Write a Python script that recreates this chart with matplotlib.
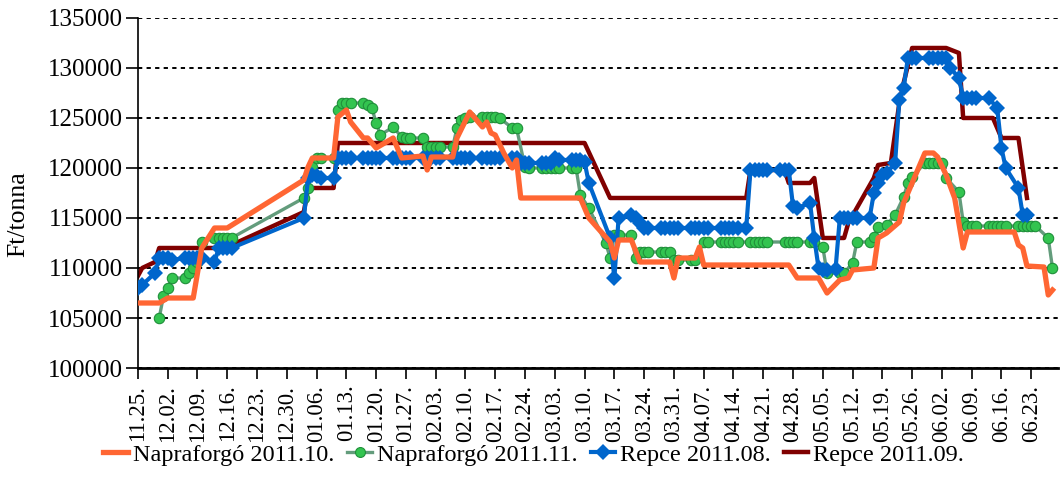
import matplotlib
matplotlib.use("Agg")
import matplotlib.pyplot as plt
import pandas as pd

plt.rcParams["font.family"] = ["Liberation Serif", "DejaVu Serif"]

FONT_SIZE = 16.5

# ---------------------------------------------------------------------------
# Data (Ft/tonna), dates as MM.DD (Nov/Dec = 2010, rest = 2011)
# ---------------------------------------------------------------------------
napra_10 = [
    ("11.25", 106500), ("11.30", 106500), ("12.02", 107000), ("12.08", 107000),
    ("12.10", 112000), ("12.13", 114000), ("12.16", 114000), ("01.03", 118800),
    ("01.04", 120100), ("01.05", 121000), ("01.10", 121000), ("01.11", 125100),
    ("01.13", 125800), ("01.14", 124600), ("01.17", 123000), ("01.18", 123000),
    ("01.20", 122000), ("01.24", 123000), ("01.26", 121000), ("01.31", 121200),
    ("02.01", 119800), ("02.02", 121100), ("02.07", 121100), ("02.08", 123000),
    ("02.11", 125600), ("02.14", 124100), ("02.15", 124600), ("02.16", 123500),
    ("02.17", 123300), ("02.19", 121500), ("02.21", 120000), ("02.22", 120800),
    ("02.23", 117000), ("03.09", 117000), ("03.11", 115000), ("03.16", 112600),
    ("03.17", 111000), ("03.18", 112800), ("03.21", 112800), ("03.23", 110600),
    ("03.30", 110600), ("03.31", 109000), ("04.01", 111000), ("04.05", 111000),
    ("04.06", 112100), ("04.07", 110300), ("04.27", 110300), ("04.29", 109000),
    ("05.04", 109000), ("05.06", 107500), ("05.09", 108800), ("05.11", 109000),
    ("05.12", 109800), ("05.17", 110000), ("05.18", 113000), ("05.20", 113500),
    ("05.23", 114600), ("05.24", 116500), ("05.25", 117500), ("05.29", 121500),
    ("05.31", 121500), ("06.01", 121100), ("06.03", 119300), ("06.05", 117000),
    ("06.07", 112000), ("06.08", 113600), ("06.19", 113600), ("06.20", 112300),
    ("06.21", 112000), ("06.22", 110200), ("06.26", 110100), ("06.27", 107300),
    ("06.28", 107800),
]

napra_11 = [
    ("11.30", 105000), ("12.01", 107200), ("12.02", 108000), ("12.03", 109000),
    ("12.06", 109000), ("12.07", 109500), ("12.08", 110000), ("12.09", 110600),
    ("12.10", 112600), ("12.13", 113000), ("12.14", 113000), ("12.15", 113000),
    ("12.16", 113000), ("12.17", 113000), ("01.03", 117000), ("01.04", 118000),
    ("01.05", 120100), ("01.06", 121000), ("01.07", 121000), ("01.10", 121000),
    ("01.11", 125800), ("01.12", 126500), ("01.13", 126500), ("01.14", 126500),
    ("01.17", 126500), ("01.18", 126300), ("01.19", 126000), ("01.20", 124500),
    ("01.21", 123300), ("01.24", 124100), ("01.26", 123100), ("01.27", 123000),
    ("01.28", 123000), ("01.31", 123000), ("02.01", 122100), ("02.02", 122100),
    ("02.03", 122100), ("02.04", 122100), ("02.07", 122100), ("02.08", 124000),
    ("02.09", 124800), ("02.10", 125000), ("02.11", 125100), ("02.14", 125100),
    ("02.15", 125100), ("02.16", 125100), ("02.17", 125100), ("02.18", 125000),
    ("02.21", 124000), ("02.22", 124000), ("02.24", 120100), ("02.25", 120000),
    ("02.28", 120000), ("03.01", 120000), ("03.02", 120000), ("03.03", 120000),
    ("03.04", 120000), ("03.07", 120000), ("03.08", 120000), ("03.09", 117300),
    ("03.11", 116000), ("03.15", 112500), ("03.16", 111000), ("03.17", 113300),
    ("03.18", 113300), ("03.21", 113300), ("03.22", 111000), ("03.23", 111600),
    ("03.24", 111600), ("03.25", 111600), ("03.28", 111600), ("03.29", 111600),
    ("03.30", 111600), ("03.31", 110800), ("04.01", 110800), ("04.04", 110800),
    ("04.05", 110800), ("04.07", 112600), ("04.08", 112600), ("04.11", 112600),
    ("04.12", 112600), ("04.13", 112600), ("04.14", 112600), ("04.15", 112600),
    ("04.18", 112600), ("04.19", 112600), ("04.20", 112600), ("04.21", 112600),
    ("04.22", 112600), ("04.26", 112600), ("04.27", 112600), ("04.28", 112600),
    ("04.29", 112600), ("05.02", 112600), ("05.03", 112600), ("05.05", 112100),
    ("05.06", 109500), ("05.09", 109500), ("05.10", 109500), ("05.12", 110500),
    ("05.13", 112600), ("05.16", 112600), ("05.17", 113100), ("05.18", 114100),
    ("05.20", 114300), ("05.22", 115300), ("05.24", 117100), ("05.25", 118500),
    ("05.26", 119100), ("05.29", 120500), ("05.30", 120500), ("05.31", 120500),
    ("06.01", 120500), ("06.02", 120500), ("06.03", 119000), ("06.06", 117600),
    ("06.07", 114600), ("06.08", 114200), ("06.09", 114200), ("06.10", 114200),
    ("06.13", 114200), ("06.14", 114200), ("06.15", 114200), ("06.16", 114200),
    ("06.17", 114200), ("06.20", 114200), ("06.21", 114200), ("06.22", 114200),
    ("06.23", 114200), ("06.24", 114200), ("06.27", 113000), ("06.28", 110000),
]

repce_08 = [
    ("11.25", 108000), ("11.26", 108300), ("11.29", 109500), ("11.30", 111000),
    ("12.01", 111000), ("12.02", 111000), ("12.03", 110800), ("12.06", 111000),
    ("12.07", 111000), ("12.08", 111000), ("12.09", 111000), ("12.10", 111000),
    ("12.13", 110600), ("12.14", 112000), ("12.15", 112000), ("12.16", 112000),
    ("12.17", 112000), ("01.03", 115000), ("01.04", 119000), ("01.05", 119300),
    ("01.06", 119200), ("01.07", 119000), ("01.10", 119000), ("01.11", 121000),
    ("01.12", 121000), ("01.13", 121000), ("01.14", 121000), ("01.17", 121000),
    ("01.18", 121000), ("01.19", 121000), ("01.20", 121000), ("01.21", 121000),
    ("01.24", 121000), ("01.25", 121000), ("01.26", 121000), ("01.27", 121000),
    ("01.28", 121000), ("01.31", 121000), ("02.01", 121000), ("02.02", 121000),
    ("02.03", 121000), ("02.04", 121000), ("02.07", 121000), ("02.08", 121000),
    ("02.09", 121000), ("02.10", 121000), ("02.11", 121000), ("02.14", 121000),
    ("02.15", 121000), ("02.16", 121000), ("02.17", 121000), ("02.18", 121000),
    ("02.21", 121000), ("02.22", 121000), ("02.23", 120500), ("02.24", 120500),
    ("02.25", 120500), ("02.28", 120500), ("03.01", 120500), ("03.02", 120500),
    ("03.03", 121000), ("03.04", 120800), ("03.07", 120800), ("03.08", 120800),
    ("03.09", 120800), ("03.10", 120600), ("03.11", 118500), ("03.16", 113000),
    ("03.17", 109000), ("03.18", 115000), ("03.21", 115300), ("03.22", 115000),
    ("03.23", 114500), ("03.24", 114000), ("03.25", 114000), ("03.28", 114000),
    ("03.29", 114000), ("03.30", 114000), ("03.31", 114000), ("04.01", 114000),
    ("04.04", 114000), ("04.05", 114000), ("04.06", 114000), ("04.07", 114000),
    ("04.08", 114000), ("04.11", 114000), ("04.12", 114000), ("04.13", 114000),
    ("04.14", 114000), ("04.15", 114000), ("04.17", 114000), ("04.18", 119800),
    ("04.19", 119800), ("04.20", 119800), ("04.21", 119800), ("04.22", 119800),
    ("04.25", 119800), ("04.26", 119800), ("04.27", 119800), ("04.28", 116200),
    ("04.29", 116000), ("05.02", 116500), ("05.03", 113000), ("05.04", 110000),
    ("05.05", 109800), ("05.06", 109800), ("05.08", 109900), ("05.09", 115000),
    ("05.10", 115000), ("05.11", 115000), ("05.12", 115000), ("05.13", 115000),
    ("05.16", 115000), ("05.17", 117500), ("05.18", 118500), ("05.19", 119300),
    ("05.20", 119500), ("05.22", 120500), ("05.23", 126800), ("05.24", 128000),
    ("05.25", 131000), ("05.26", 131000), ("05.27", 131000), ("05.30", 131000),
    ("05.31", 131000), ("06.01", 131000), ("06.02", 131000), ("06.03", 131000),
    ("06.04", 130000), ("06.06", 129000), ("06.07", 127000), ("06.08", 127000),
    ("06.09", 127000), ("06.10", 127000), ("06.13", 127000), ("06.15", 126000),
    ("06.16", 122000), ("06.17", 120000), ("06.20", 118000), ("06.21", 115300),
    ("06.22", 115300),
]

repce_09 = [
    ("11.25", 109200), ("11.26", 110000), ("11.29", 110600), ("11.30", 112000),
    ("12.16", 112000), ("12.17", 112300), ("01.03", 115600), ("01.04", 118000),
    ("01.10", 118000), ("01.11", 122500), ("03.10", 122500), ("03.16", 117000),
    ("04.17", 117000), ("04.18", 119800), ("04.26", 119800), ("04.27", 118500),
    ("05.02", 118500), ("05.03", 119000), ("05.05", 113000), ("05.10", 113000),
    ("05.11", 114500), ("05.17", 119000), ("05.18", 120300), ("05.21", 120500),
    ("05.23", 126500), ("05.24", 128500), ("05.26", 132000), ("06.03", 132000),
    ("06.06", 131500), ("06.07", 125000), ("06.14", 125000), ("06.16", 123000),
    ("06.20", 123000), ("06.22", 117000),
]

LABELS = ["Napraforgó 2011.10.", "Napraforgó 2011.11.", "Repce 2011.08.", "Repce 2011.09."]


def to_series(points):
    dates = []
    vals = []
    for md, v in points:
        m, d = md.split(".")
        year = 2010 if int(m) >= 11 else 2011
        dates.append(pd.Timestamp(year=year, month=int(m), day=int(d)))
        vals.append(v)
    return dates, vals


fig = plt.figure(figsize=(10.61, 4.82), dpi=100)
ax = fig.add_axes([0.130, 0.2365, 0.867, 0.7262])

x, y = to_series(repce_09)
ax.plot(x, y, color="#800000", linewidth=3.2, label=LABELS[3], zorder=2)

x, y = to_series(napra_11)
ax.plot(x, y, color="#639c7c", linewidth=2.4, marker="o", markersize=7.5,
        markerfacecolor="#33c450", markeredgecolor="#1f8f3a", markeredgewidth=0.8,
        label=LABELS[1], zorder=3)

x, y = to_series(repce_08)
ax.plot(x, y, color="#0066cc", linewidth=3.0, marker="D", markersize=8.5,
        markeredgewidth=0, label=LABELS[2], zorder=4)

x, y = to_series(napra_10)
ax.plot(x, y, color="#ff6633", linewidth=3.8, label=LABELS[0], zorder=5,
        solid_joinstyle="round")

# axes
ax.set_ylim(100000, 135000)
ax.set_yticks(range(100000, 135001, 5000))
ax.set_xlim(pd.Timestamp("2010-11-25"), pd.Timestamp("2011-06-29 06:00"))
tick_dates = pd.date_range("2010-11-25", "2011-06-23", freq="7D")
ax.set_xticks(tick_dates)
ax.set_xticklabels([d.strftime("%m.%d.") for d in tick_dates], rotation=90)

ax.yaxis.grid(True, color="black", linestyle=(0, (2.2, 2.2)), linewidth=1.4)
ax.set_axisbelow(True)
for side in ["top", "right"]:
    ax.spines[side].set_visible(False)
ax.spines["left"].set_linewidth(1.2)
ax.spines["bottom"].set_linewidth(2.0)
ax.tick_params(axis="y", direction="out", length=9, width=1.2, labelsize=18, pad=2)
ax.tick_params(axis="x", direction="out", length=8, width=1.2, labelsize=FONT_SIZE, pad=4)
ax.set_ylabel("Ft/tonna", fontsize=18.5)
ax.yaxis.set_label_coords(-0.118, 0.44)

# legend in series order
handles, labels = ax.get_legend_handles_labels()
order = [labels.index(l) for l in LABELS]
fig.legend([handles[i] for i in order], [labels[i] for i in order],
           loc="lower center", bbox_to_anchor=(0.503, -0.012), ncol=4,
           frameon=False, fontsize=17.5, handlelength=1.0,
           handletextpad=0.2, columnspacing=0.55, markerscale=0.95)

fig.savefig("out.png", dpi=100)
